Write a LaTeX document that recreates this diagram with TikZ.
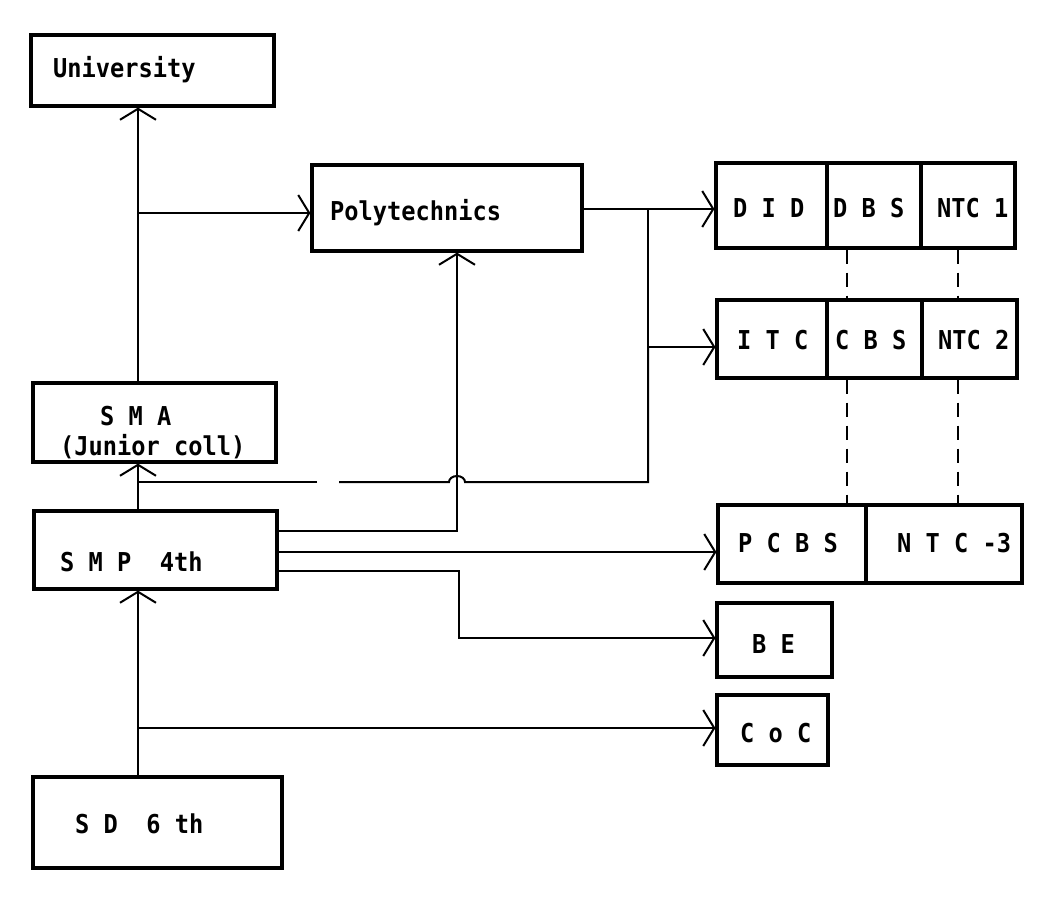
\documentclass[tikz,border=0pt]{standalone}
\usepackage{fontspec}
\newfontfamily\monof[FakeStretch=0.91]{DejaVu Sans Mono Bold}
\usetikzlibrary{arrows.meta,fit}
\begin{document}
\begin{tikzpicture}[x=1pt,y=-1pt,
 box/.style={draw,line width=3.2pt,inner sep=0pt},
 lbl/.style={inner sep=0pt,anchor=base west,font=\monof\fontsize{26}{30}\selectfont},
 conn/.style={line width=2pt},
 arr/.style={conn,-{Straight Barb[length=11pt,width=36pt]}},
 dsh/.style={line width=1.8pt,dash pattern=on 14pt off 9pt}]
\fill[white] (0,0) rectangle (1048,900);
\useasboundingbox (0,0) rectangle (1048,900);
% boxes
\node[box,fit={(31,35)(274,106)}] (uni) {};
\node[box,fit={(312,165)(582,251)}] (poly) {};
\node[box,fit={(33,383)(276,462)}] (sma) {};
\node[box,fit={(34,511)(277,589)}] (smp) {};
\node[box,fit={(33,777)(282,868)}] (sd) {};
\node[box,fit={(716,163)(827,248)}] (did) {};
\node[box,fit={(827,163)(921,248)}] (dbs) {};
\node[box,fit={(921,163)(1015,248)}] (ntc1) {};
\node[box,fit={(717,300)(827,378)}] (itc) {};
\node[box,fit={(827,300)(922,378)}] (cbs) {};
\node[box,fit={(922,300)(1017,378)}] (ntc2) {};
\node[box,fit={(718,505)(866,583)}] (pcbs) {};
\node[box,fit={(866,505)(1022,583)}] (ntc3) {};
\node[box,fit={(717,603)(832,677)}] (be) {};
\node[box,fit={(717,695)(828,765)}] (coc) {};
% labels
\node[lbl] (tuni) at (53,77) {University};
\node[lbl] (tpoly) at (330,220) {Polytechnics};
\node[lbl] (tsma) at (100,425) {S M A};
\node[lbl] (tjc) at (60,455) {(Junior coll)};
\node[lbl] (tsmp) at (60,571) {S M P\ \ 4th};
\node[lbl] (tsd) at (75,833) {S D\ \ 6 th};
\node[lbl] (tdid) at (733,217) {D I D};
\node[lbl] (tdbs) at (833,217) {D B S};
\node[lbl] (tntc1) at (937,217) {NTC 1};
\node[lbl] (titc) at (737,349) {I T C};
\node[lbl] (tcbs) at (835,349) {C B S};
\node[lbl] (tntc2) at (938,349) {NTC 2};
\node[lbl] (tpcbs) at (738,552) {P C B S};
\node[lbl] (tntc3) at (897,552) {N T C -3};
\node[lbl] (tbe) at (752,653) {B E};
\node[lbl] (tcoc) at (740,742) {C o C};
% helper coordinates
\coordinate (cx) at (138,0);
\coordinate (jP) at (138,213);
\coordinate (jS) at (138,482);
\coordinate (jC) at (138,728);
\coordinate (kPoly) at (457,531);
\coordinate (kPC) at (0,552);
\coordinate (kBE1) at (459,571);
\coordinate (kBE2) at (459,638);
\coordinate (kD) at (648,209);
\coordinate (kI) at (648,347);
\coordinate (kS) at (648,482);
\coordinate (h1) at (465,482);
\coordinate (g1) at (339,482);
\coordinate (g2) at (317,482);
\coordinate (dA) at (847,0);
\coordinate (dB) at (958,0);
% connectors
\draw[arr] (sma.north -| cx) -- (uni.south -| cx);
\draw[arr] (jP) -- (poly.west |- jP);
\draw[arr] (smp.north -| cx) -- (sma.south -| cx);
\draw[arr] (sd.north -| cx) -- (smp.south -| cx);
\draw[arr] (jC) -- (coc.west |- jC);
\draw[arr] (smp.east |- kPoly) -| (poly.south -| kPoly);
\draw[arr] (smp.east |- kPC) -- (pcbs.west |- kPC);
\draw[arr] (smp.east |- kBE1) -- (kBE1) -- (kBE2) -- (be.west |- kBE2);
\draw[arr] (poly.east |- kD) -- (did.west |- kD);
\draw[arr] (kD) -- (kI) -- (itc.west |- kI);
\draw[conn] (kI) -- (kS) -- (h1) arc[start angle=0,end angle=180,x radius=8pt,y radius=6pt] -- (g1);
\draw[conn] (g2) -- (jS);
% dashed links
\draw[dsh] (dbs.south -| dA) -- (cbs.north -| dA);
\draw[dsh] (ntc1.south -| dB) -- (ntc2.north -| dB);
\draw[dsh] (cbs.south -| dA) -- (pcbs.north -| dA);
\draw[dsh] (ntc2.south -| dB) -- (ntc3.north -| dB);
\end{tikzpicture}
\end{document}
